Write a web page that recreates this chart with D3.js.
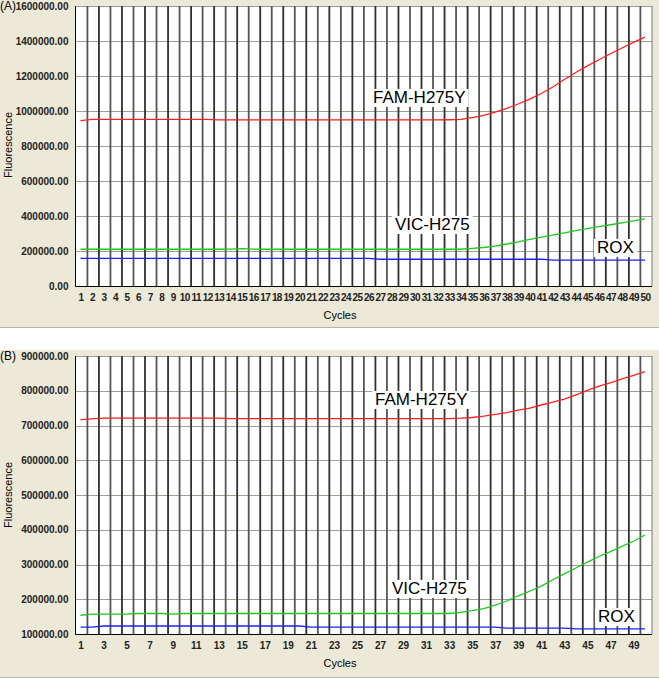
<!DOCTYPE html>
<html><head><meta charset="utf-8">
<script src="https://cdn.jsdelivr.net/npm/d3@7"></script>
<style>
body{margin:0;background:#fff;}
text{font-family:"Liberation Sans",Arial,sans-serif;}
</style></head>
<body><svg id="c" width="659" height="679"></svg>
<script>
const cycles = d3.range(1, 51);

// Panel A values
const famA = [945000,952000,952000,952000,952000,952000,952000,952000,952000,952000,952000,952000,949000,949000,949000,949000,949000,949000,949000,949000,949000,949000,949000,949000,949000,949000,949000,949000,949000,949000,949000,949000,950000,952000,962000,975000,993000,1015000,1040000,1068000,1100000,1137000,1180000,1220000,1258000,1293000,1327000,1360000,1392000,1422000];
const vicA = [210000,210000,210000,210000,210000,210000,210000,210000,210000,210000,210000,210000,210000,211000,214000,211000,210000,210000,210000,210000,210000,210000,210000,210000,210000,210000,210000,210000,210000,210000,210000,210000,210000,210000,215000,220000,228000,240000,252000,266000,279000,291000,303000,316000,328000,339000,350000,361000,372000,383000];
const roxA = [158000,158000,158000,158000,158000,158000,158000,158000,158000,158000,158000,158000,158000,158000,158000,158000,158000,158000,158000,158000,158000,158000,158000,158000,158000,158000,153000,153000,153000,153000,153000,153000,153000,153000,153000,153000,153000,153000,153000,153000,153000,148000,148000,148000,148000,148000,148000,148000,148000,148000];

// Panel B values
const famB = [717000,719000,721000,721000,721000,721000,721000,721000,721000,721000,721000,721000,721000,720000,720000,720000,720000,720000,720000,720000,720000,720000,720000,720000,720000,720000,720000,720000,720000,720000,720000,720000,720000,721000,723000,727000,732000,737000,744000,750000,759000,767000,776000,788000,801000,813000,823000,834000,844000,855000];
const vicB = [154000,157000,157000,157000,157000,159000,159000,159000,157000,159000,159000,159000,159000,159000,159000,159000,159000,159000,159000,159000,159000,159000,159000,159000,159000,159000,159000,159000,159000,159000,159000,159000,159000,162000,167000,173000,183000,195000,210000,223000,238000,256000,273000,290000,307000,323000,337000,352000,367000,385000];
const roxB = [120000,120000,123000,123000,123000,123000,123000,123000,123000,123000,123000,123000,123000,123000,123000,123000,123000,123000,123000,123000,120000,120000,120000,120000,120000,120000,120000,120000,120000,120000,120000,120000,120000,120000,120000,120000,120000,117000,117000,117000,117000,117000,117000,115000,115000,115000,115000,115000,115000,115000];

const yTicksA = d3.range(0, 1600001, 200000);
const yTicksB = d3.range(100000, 900001, 100000);
const xTicksA = d3.range(1, 51);
const xTicksB = d3.range(1, 50, 2);
const seriesNames = ["FAM-H275Y", "VIC-H275", "ROX"];
const seriesColors = ["#ff2020", "#1ec81e", "#2020ff"];

const svg = d3.select("#c");

function panel(cfg) {
  const g = svg.append("g");
  g.append("rect").attr("x", 0).attr("y", cfg.bgTop).attr("width", 659).attr("height", cfg.bgBottom - cfg.bgTop).attr("fill", "#ece9d8");
  g.append("line").attr("x1", 0).attr("x2", 659).attr("y1", cfg.bgBottom + 0.5).attr("y2", cfg.bgBottom + 0.5).attr("stroke", "#b8b5a6");
  const L = 75.5, R = 652, T = cfg.top, B = cfg.bottom;
  g.append("rect").attr("x", L).attr("y", T).attr("width", R - L).attr("height", B - T).attr("fill", "#fff");
  const x = d3.scaleLinear().domain([1, 50]).range([80.5, 645]);
  const y = d3.scaleLinear().domain(cfg.yDomain).range([B, T]);
  const grid = g.append("g");
  grid.selectAll("line.hg").data(cfg.yTicks).enter().append("line").attr("class", "hg")
    .attr("x1", L).attr("x2", R).attr("y1", d => Math.round(y(d)) + 0.5).attr("y2", d => Math.round(y(d)) + 0.5)
    .attr("stroke", "#a09e90").attr("stroke-width", 1);
  grid.selectAll("line.vg").data(d3.range(1, 50)).enter().append("line").attr("class", "vg")
    .attr("x1", d => x(d + 0.6)).attr("x2", d => x(d + 0.6)).attr("y1", T).attr("y2", B)
    .attr("stroke", (d, i) => i % 2 ? "#303030" : "#555").attr("stroke-width", 1.8);
  const lines = g.append("g");
  const line = d3.line().x((d, i) => x(cycles[i])).y(d => y(d));
  cfg.series.forEach((s, k) => {
    lines.append("path").datum(s).attr("d", line).attr("fill", "none").attr("stroke", seriesColors[k]).attr("stroke-width", 1.3);
  });
  const labs = g.append("g");
  cfg.labels.forEach((lb, k) => {
    const r = labs.append("rect").attr("fill", "#fff");
    const t = labs.append("text").attr("x", lb[0]).attr("y", lb[1]).attr("dy", "0.35em")
      .attr("font-size", 17).attr("fill", "#000").text(seriesNames[k]);
    const bb = t.node().getBBox();
    r.attr("x", bb.x - 3).attr("y", bb.y + 1).attr("width", bb.width + 6).attr("height", bb.height - 1);
  });
  g.append("line").attr("x1", L).attr("x2", L).attr("y1", T).attr("y2", B + 0.5).attr("stroke", "#000");
  g.append("line").attr("x1", L).attr("x2", R).attr("y1", B + 0.5).attr("y2", B + 0.5).attr("stroke", "#000");
  g.append("line").attr("x1", R).attr("x2", R).attr("y1", T).attr("y2", B).attr("stroke", "#777");
  const ya = g.append("g").attr("transform", `translate(${L},0)`)
    .call(d3.axisLeft(y).tickValues(cfg.yTicks).tickSize(0).tickPadding(7).tickFormat(d => d3.format(".2f")(d)));
  ya.select(".domain").remove();
  ya.selectAll("text").attr("font-size", 10).attr("font-weight", "bold").attr("fill", "#222").attr("font-family", "Liberation Sans, Arial, sans-serif");
  const xa = g.append("g").attr("transform", `translate(0,${B})`)
    .call(d3.axisBottom(x).tickValues(cfg.xTicks).tickSize(0).tickPadding(8).tickFormat(d3.format("d")));
  xa.select(".domain").remove();
  xa.selectAll("text").attr("font-size", 10).attr("font-weight", "bold").attr("fill", "#222").attr("font-family", "Liberation Sans, Arial, sans-serif")
    .attr("letter-spacing", cfg.xTicks.length > 30 ? "-0.6px" : "0px");
  g.append("text").attr("x", 340).attr("y", B + 29).attr("text-anchor", "middle").attr("dy", "0.35em").attr("font-size", 11).text("Cycles");
  g.append("text").attr("transform", `translate(8,${cfg.ylabY}) rotate(-90)`).attr("text-anchor", "middle").attr("dy", "0.35em").attr("font-size", 11).text("Fluorescence");
  g.append("text").attr("x", 0).attr("y", T).attr("dy", "0.35em").attr("font-size", 12).text(cfg.tag);
}

panel({bgTop: 0, bgBottom: 327, top: 6, bottom: 286, yDomain: [0, 1600000], yTicks: yTicksA, xTicks: xTicksA,
  series: [famA, vicA, roxA], labels: [[373, 97], [395, 224], [597, 247]], ylabY: 145, tag: "(A)"});
panel({bgTop: 350, bgBottom: 677, top: 356, bottom: 634, yDomain: [100000, 900000], yTicks: yTicksB, xTicks: xTicksB,
  series: [famB, vicB, roxB], labels: [[375, 399], [392, 588], [598, 616]], ylabY: 495, tag: "(B)"});
</script></body></html>
